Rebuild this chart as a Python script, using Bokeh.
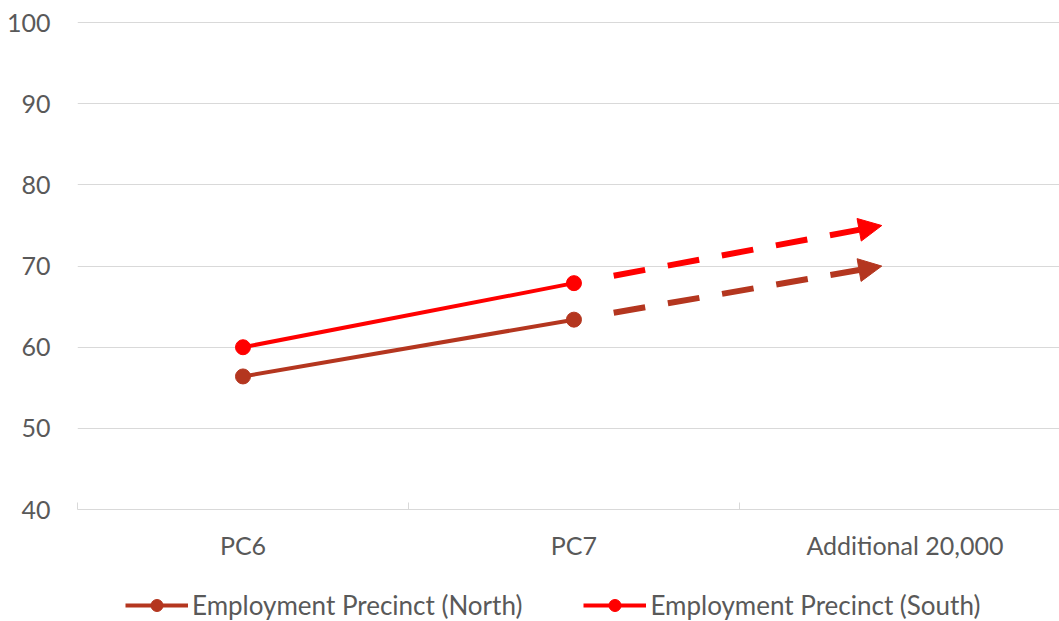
from bokeh.plotting import figure
from bokeh.layouts import column
from bokeh.models import (FixedTicker, Arrow, NormalHead, Legend, LegendItem,
                          Range1d)
from bokeh.embed import file_html
from bokeh.resources import INLINE

# --- data -------------------------------------------------------------
categories = ["PC6", "PC7", "Additional 20,000"]
north = [56.4, 63.4]          # Employment Precinct (North), PC6 -> PC7
south = [60.0, 67.9]          # Employment Precinct (South), PC6 -> PC7
north_projected = 70          # projected level with additional 20,000
south_projected = 75
y_ticks = [40, 50, 60, 70, 80, 90, 100]
series_names = ["Employment Precinct (North)", "Employment Precinct (South)"]

NORTH_COLOR = "#B4361F"
SOUTH_COLOR = "#FF0000"
GRID_COLOR = "#D9D9D9"
TEXT_COLOR = "#595959"
FONT = "Lato"
FONT_SIZE = "25px"

# category centres sit at 0.5, 1.5, 2.5 on a numeric axis
xc = [i + 0.5 for i in range(len(categories))]

p = figure(width=1059, height=580, output_backend="svg", toolbar_location=None,
           x_range=Range1d(0, 2.967), y_range=Range1d(40, 100.15),
           min_border_left=77, min_border_right=0, min_border_top=21,
           min_border_bottom=71)
p.outline_line_color = None
p.background_fill_color = "white"
p.border_fill_color = "white"

# y axis
p.yaxis.ticker = FixedTicker(ticks=y_ticks)
p.yaxis.axis_line_color = None
p.yaxis.major_tick_line_color = None
p.yaxis.minor_tick_line_color = None
p.yaxis.major_label_standoff = 21
p.yaxis.major_label_text_font = FONT
p.yaxis.major_label_text_font_size = FONT_SIZE
p.yaxis.major_label_text_color = TEXT_COLOR
p.ygrid.grid_line_color = GRID_COLOR
p.ygrid.grid_line_width = 1
p.ygrid.ticker = FixedTicker(ticks=y_ticks)

# x axis: labels at category centres, small ticks at category boundaries
p.xaxis.ticker = FixedTicker(ticks=xc, minor_ticks=[0, 1, 2])
p.xaxis.major_label_overrides = {x: c for x, c in zip(xc, categories)}
p.xaxis.axis_line_color = GRID_COLOR
p.xaxis.major_tick_line_color = None
p.xaxis.minor_tick_line_color = GRID_COLOR
p.xaxis.minor_tick_in = 7
p.xaxis.minor_tick_out = 0
p.xaxis.major_tick_out = 0
p.xaxis.major_tick_in = 0
p.xaxis.major_label_standoff = 20
p.xaxis.major_label_text_font = FONT
p.xaxis.major_label_text_font_size = FONT_SIZE
p.xaxis.major_label_text_color = TEXT_COLOR
p.xgrid.grid_line_color = None

# solid series lines with markers
p.line(xc[:2], north, line_color=NORTH_COLOR, line_width=4)
p.scatter(xc[:2], north, size=15, fill_color=NORTH_COLOR, line_color=NORTH_COLOR)
p.line(xc[:2], south, line_color=SOUTH_COLOR, line_width=4)
p.scatter(xc[:2], south, size=15, fill_color=SOUTH_COLOR, line_color=SOUTH_COLOR)

# dashed projection arrows from PC7 towards the additional 20,000 scenario
gap = 0.12        # space left after the PC7 marker
tip_x = xc[2] - 0.07
for start, end, col in [(north[1], north_projected, NORTH_COLOR),
                        (south[1], south_projected, SOUTH_COLOR)]:
    x0 = xc[1] + gap
    y0 = start + (end - start) * gap / (tip_x - xc[1])
    p.add_layout(Arrow(x_start=x0, y_start=y0, x_end=tip_x, y_end=end,
                       line_color=col, line_width=6, line_dash="32 23",
                       end=NormalHead(size=23, fill_color=col, line_color=col,
                                      line_width=1)))

# legend strip underneath the chart (its frame is aligned with the chart's)
leg = figure(width=1059, height=41, output_backend="svg", toolbar_location=None,
             x_range=Range1d(0, 1), y_range=Range1d(0, 1),
             x_axis_type=None, y_axis_type=None,
             min_border_left=0, min_border_right=0, min_border_top=0,
             min_border_bottom=0)
leg.outline_line_color = None
leg.grid.visible = False
nan = float("nan")
items = []
for name, col in zip(series_names, [NORTH_COLOR, SOUTH_COLOR]):
    # key-only renderers: a single missing point, nothing drawn in the frame
    r_line = leg.line([nan], [nan], line_color=col, line_width=4)
    r_mark = leg.scatter([nan], [nan], size=15, fill_color=col, line_color=col)
    items.append(LegendItem(label=name, renderers=[r_line, r_mark]))
legend = Legend(items=items, location=(48, 0), orientation="horizontal",
                glyph_width=63, glyph_height=30, label_standoff=4,
                label_width=327, spacing=61, padding=0, margin=0,
                background_fill_alpha=0, border_line_color=None,
                label_text_font=FONT, label_text_font_size="26px",
                label_text_color=TEXT_COLOR)
leg.add_layout(legend, "center")

open("out.html", "w").write(file_html(column(p, leg, spacing=0), INLINE))
